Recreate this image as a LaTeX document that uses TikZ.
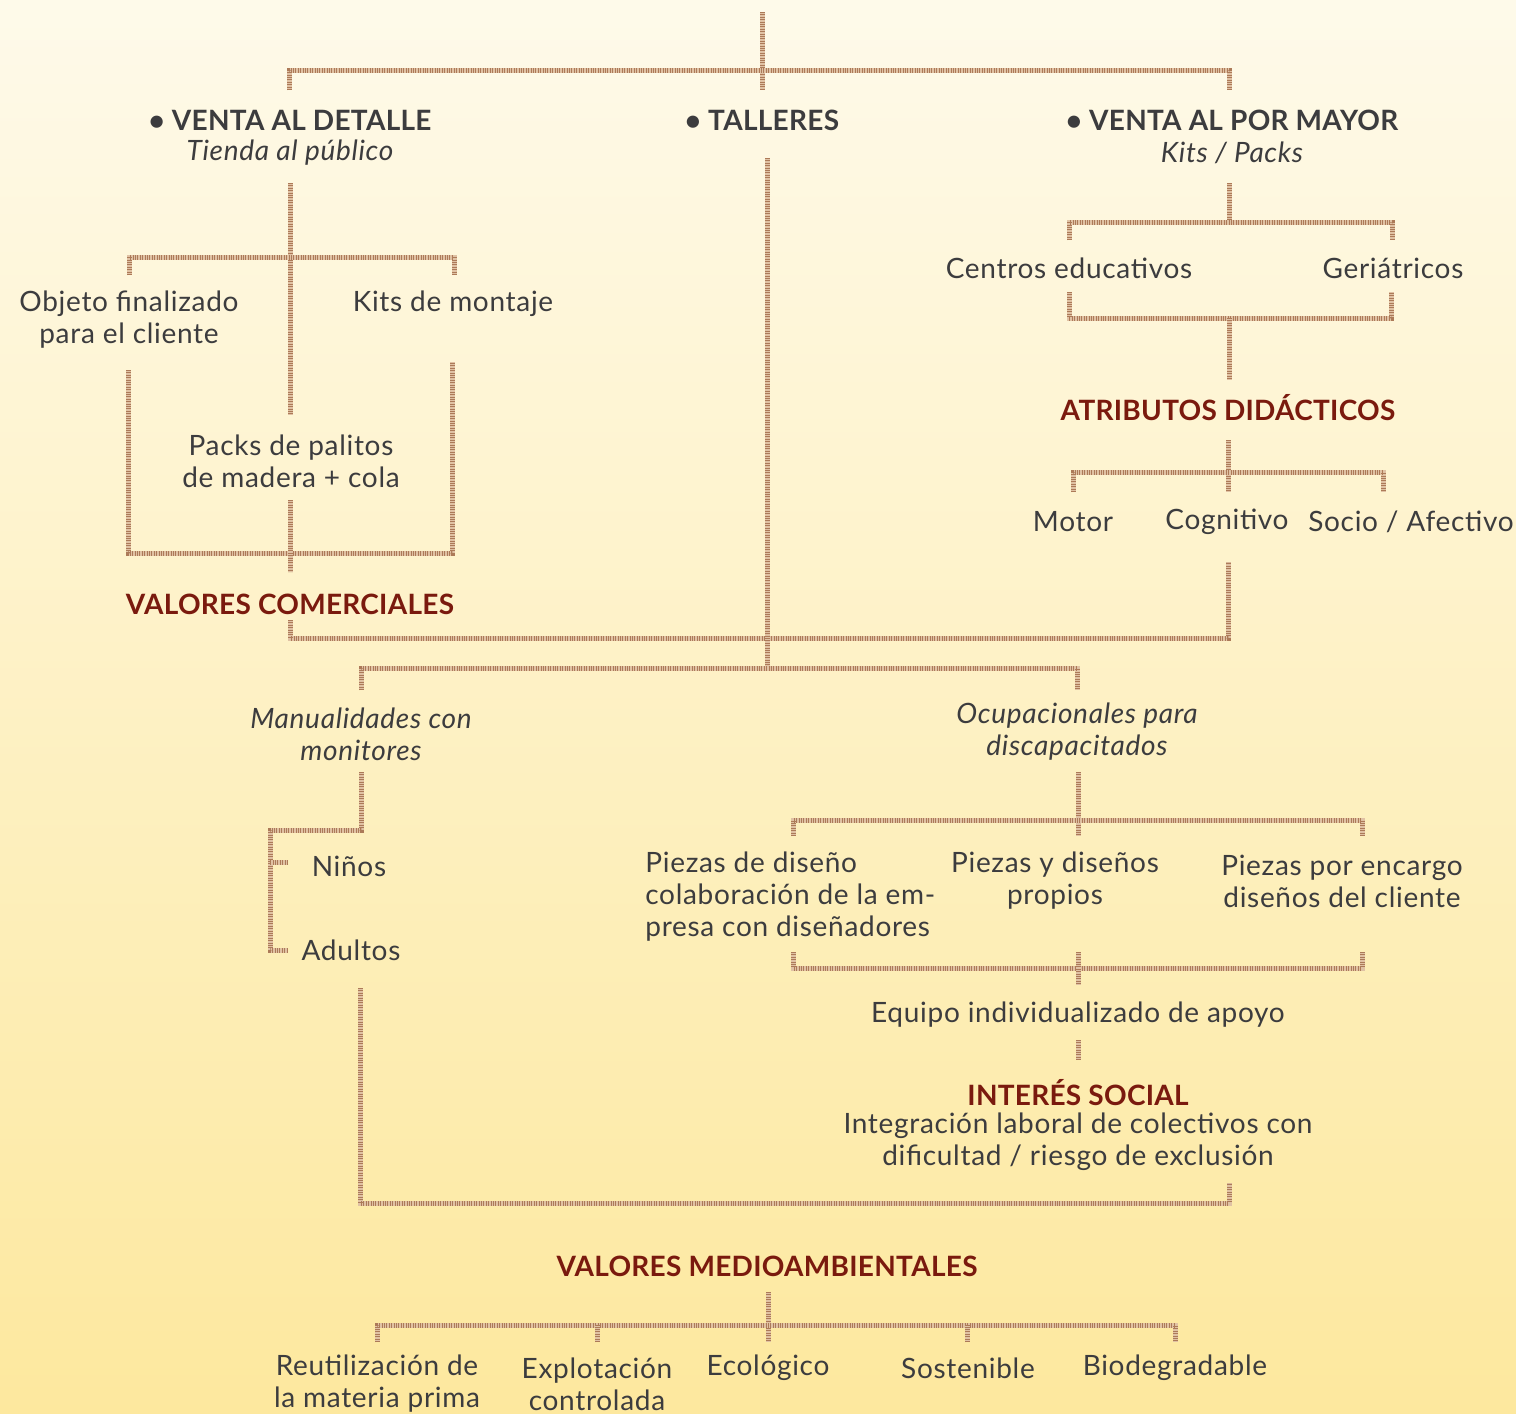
\documentclass[tikz,border=0pt]{standalone}
\usepackage{fontspec}
\setmainfont{Lato}[LetterSpace=2.5,BoldFeatures={LetterSpace=1}]
\usetikzlibrary{positioning}
\definecolor{bgtop}{RGB}{254,250,234}
\definecolor{bgbot}{RGB}{253,232,158}
\definecolor{stickbase}{RGB}{224,194,164}
\definecolor{stickdark}{RGB}{172,122,88}
\definecolor{txtgray}{RGB}{60,60,62}
\definecolor{darkred}{RGB}{122,26,14}
\begin{document}
\begin{tikzpicture}[x=0.5pt,y=-0.5pt]
            \tikzset{Label/.style={%
                font=\fontsize{14}{16}\selectfont,%
                text=txtgray,%
                align=center,%
                inner sep=0pt,%
            }}
            \tikzset{Title/.style={Label,font=\fontsize{14}{16}\selectfont\bfseries}}
            \tikzset{Value/.style={Title,text=darkred}}
            \tikzset{Sub/.style={Label,font=\fontsize{14}{16}\selectfont\itshape}}
            \tikzset{Stick/.style={%
                draw=stickbase,%
                line width=2.5pt,%
                line join=miter,%
                postaction={draw=stickdark,line width=2.5pt,dash pattern=on 0.5pt off 0.7pt},%
            }}

            \fill[top color=bgtop,bottom color=bgbot] (0,0) rectangle (1516,1414);

            \node[Title] (vd) at (290,120) {• VENTA AL DETALLE};
            \node[Sub] (vdsub) at (290,153) {Tienda al público};
            \node[Title] (ta) at (762,120) {• TALLERES};
            \node[Title] (vm) at (1232,120) {• VENTA AL POR MAYOR};
            \node[Sub] (vmsub) at (1232,153) {Kits / Packs};

            \node[Label] (obj) at (129,320) {Objeto finalizado\\para el cliente};
            \node[Label] (kits) at (453,304) {Kits de montaje};
            \node[Label] (packs) at (291,461) {Packs de palitos\\de madera + cola};
            \node[Value] (vc) at (290,604) {VALORES COMERCIALES};

            \node[Label] (ce) at (1069,268) {Centros educativos};
            \node[Label] (ge) at (1393,268) {Geriátricos};
            \node[Value] (ad) at (1228,408) {ATRIBUTOS DIDÁCTICOS};
            \node[Label] (mo) at (1073,522) {Motor};
            \node[Label] (co) at (1227,522) {Cognitivo};
            \node[Label] (so) at (1411,522) {Socio / Afectivo};

            \node[Sub] (man) at (361,734) {Manualidades con\\monitores};
            \node[Sub] (ocu) at (1077,732) {Ocupacionales para\\discapacitados};
            \node[Label] (ni) at (349,866) {Niños};
            \node[Label] (adu) at (351,950) {Adultos};

            \node[Label,align=left,anchor=west] (p1) at (645,897) {Piezas de diseño\\colaboración de la em-\\presa con diseñadores};
            \node[Label] (p2) at (1055,881) {Piezas y diseños\\propios};
            \node[Label] (p3) at (1342,881) {Piezas por encargo\\diseños del cliente};
            \node[Label] (eq) at (1078,1015) {Equipo individualizado de apoyo};
            \node[Value] (is) at (1078,1093) {INTERÉS SOCIAL};
            \node[Label] (isub) at (1078,1142) {Integración laboral de colectivos con\\dificultad / riesgo de exclusión};

            \node[Value] (vma) at (767,1266) {VALORES MEDIOAMBIENTALES};
            \node[Label] (re) at (377,1384) {Reutilización de\\la materia prima};
            \node[Label] (ex) at (597,1384) {Explotación\\controlada};
            \node[Label] (ec) at (768,1368) {Ecológico};
            \node[Label] (sos) at (968,1368) {Sostenible};
            \node[Label] (bio) at (1175,1368) {Biodegradable};

            \coordinate (root) at (762,12);
            \coordinate (rootj) at (762,90);
            \coordinate (vdt) at (289,90);
            \coordinate (vmt) at (1229,90);
            \coordinate (vdb) at (290,183);
            \coordinate (vdj) at (290,415);
            \coordinate (objt) at (129,275);
            \coordinate (kitt) at (454,275);
            \coordinate (objb) at (128,370);
            \coordinate (kitb) at (452,362);
            \coordinate (bl) at (128,553);
            \coordinate (packb) at (290,500);
            \coordinate (packe) at (290,572);
            \coordinate (vcb) at (290,620);
            \coordinate (cob) at (1228,562);
            \coordinate (tab) at (767,158);
            \coordinate (taj) at (767,668);
            \coordinate (mant) at (361,690);
            \coordinate (ocut) at (1077,690);
            \coordinate (manb) at (361,772);
            \coordinate (nil) at (288,862);
            \coordinate (adul) at (288,950);
            \coordinate (adub) at (360,988);
            \coordinate (isb) at (1229,1183);
            \coordinate (ocub) at (1078,772);
            \coordinate (ocuj) at (1078,836);
            \coordinate (p1t) at (793,836);
            \coordinate (p3t) at (1362,836);
            \coordinate (p1b) at (793,952);
            \coordinate (p3b) at (1362,952);
            \coordinate (p2b) at (1078,952);
            \coordinate (eqt) at (1078,985);
            \coordinate (eqb) at (1078,1040);
            \coordinate (ist) at (1078,1060);
            \coordinate (vmab) at (768,1292);
            \coordinate (ect) at (768,1342);
            \coordinate (ret) at (377,1342);
            \coordinate (bit) at (1175,1342);
            \coordinate (ext) at (597,1342);
            \coordinate (sost) at (967,1342);
            \coordinate (vmb) at (1229,183);
            \coordinate (vmj) at (1229,222);
            \coordinate (cet) at (1069,240);
            \coordinate (get) at (1392,240);
            \coordinate (ceb) at (1069,292);
            \coordinate (geb) at (1391,292);
            \coordinate (adt) at (1229,380);
            \coordinate (adb) at (1228,440);
            \coordinate (mot) at (1073,492);
            \coordinate (cot) at (1228,492);
            \coordinate (sot) at (1383,492);

            \draw[Stick] (root) -- (rootj);
            \draw[Stick] (vdt) -- ++(0,-20) -| (vmt);

            \draw[Stick] (vdb) -- (vdj);
            \draw[Stick] (objt) -- ++(0,-18) -| (kitt);
            \draw[Stick] (objb) -- (bl) -| (kitb);
            \draw[Stick] (packb) -- (packe);
            \draw[Stick] (vcb) |- (cob |- 0,638) -- (cob);

            \draw[Stick] (tab) -- (taj);
            \draw[Stick] (mant) -- ++(0,-22) -| (ocut);

            \draw[Stick] (manb) -- ++(0,58) -| (adul -| 270,0) -- (adul);
            \draw[Stick] (nil) -- ++(-18,0);
            \draw[Stick] (adub) |- (isb |- 0,1203) -- (isb);

            \draw[Stick] (ocub) -- (ocuj);
            \draw[Stick] (p1t) -- ++(0,-16) -| (p3t);
            \draw[Stick] (p1b) -- ++(0,16) -| (p3b);
            \draw[Stick] (p2b) -- (eqt);
            \draw[Stick] (eqb) -- (ist);

            \draw[Stick] (vmab) -- (ect);
            \draw[Stick] (ret) -- ++(0,-17) -| (bit);
            \draw[Stick] (ext) -- ++(0,-17);
            \draw[Stick] (sost) -- ++(0,-17);

            \draw[Stick] (vmb) -- (vmj);
            \draw[Stick] (cet) -- ++(0,-18) -| (get);
            \draw[Stick] (ceb) -- ++(0,26) -| (geb);
            \draw[Stick] (vmj |- 0,318) -- (adt);
            \draw[Stick] (adb) -- (cot);
            \draw[Stick] (mot) -- ++(0,-20) -| (sot);
        \end{tikzpicture}
\end{document}
